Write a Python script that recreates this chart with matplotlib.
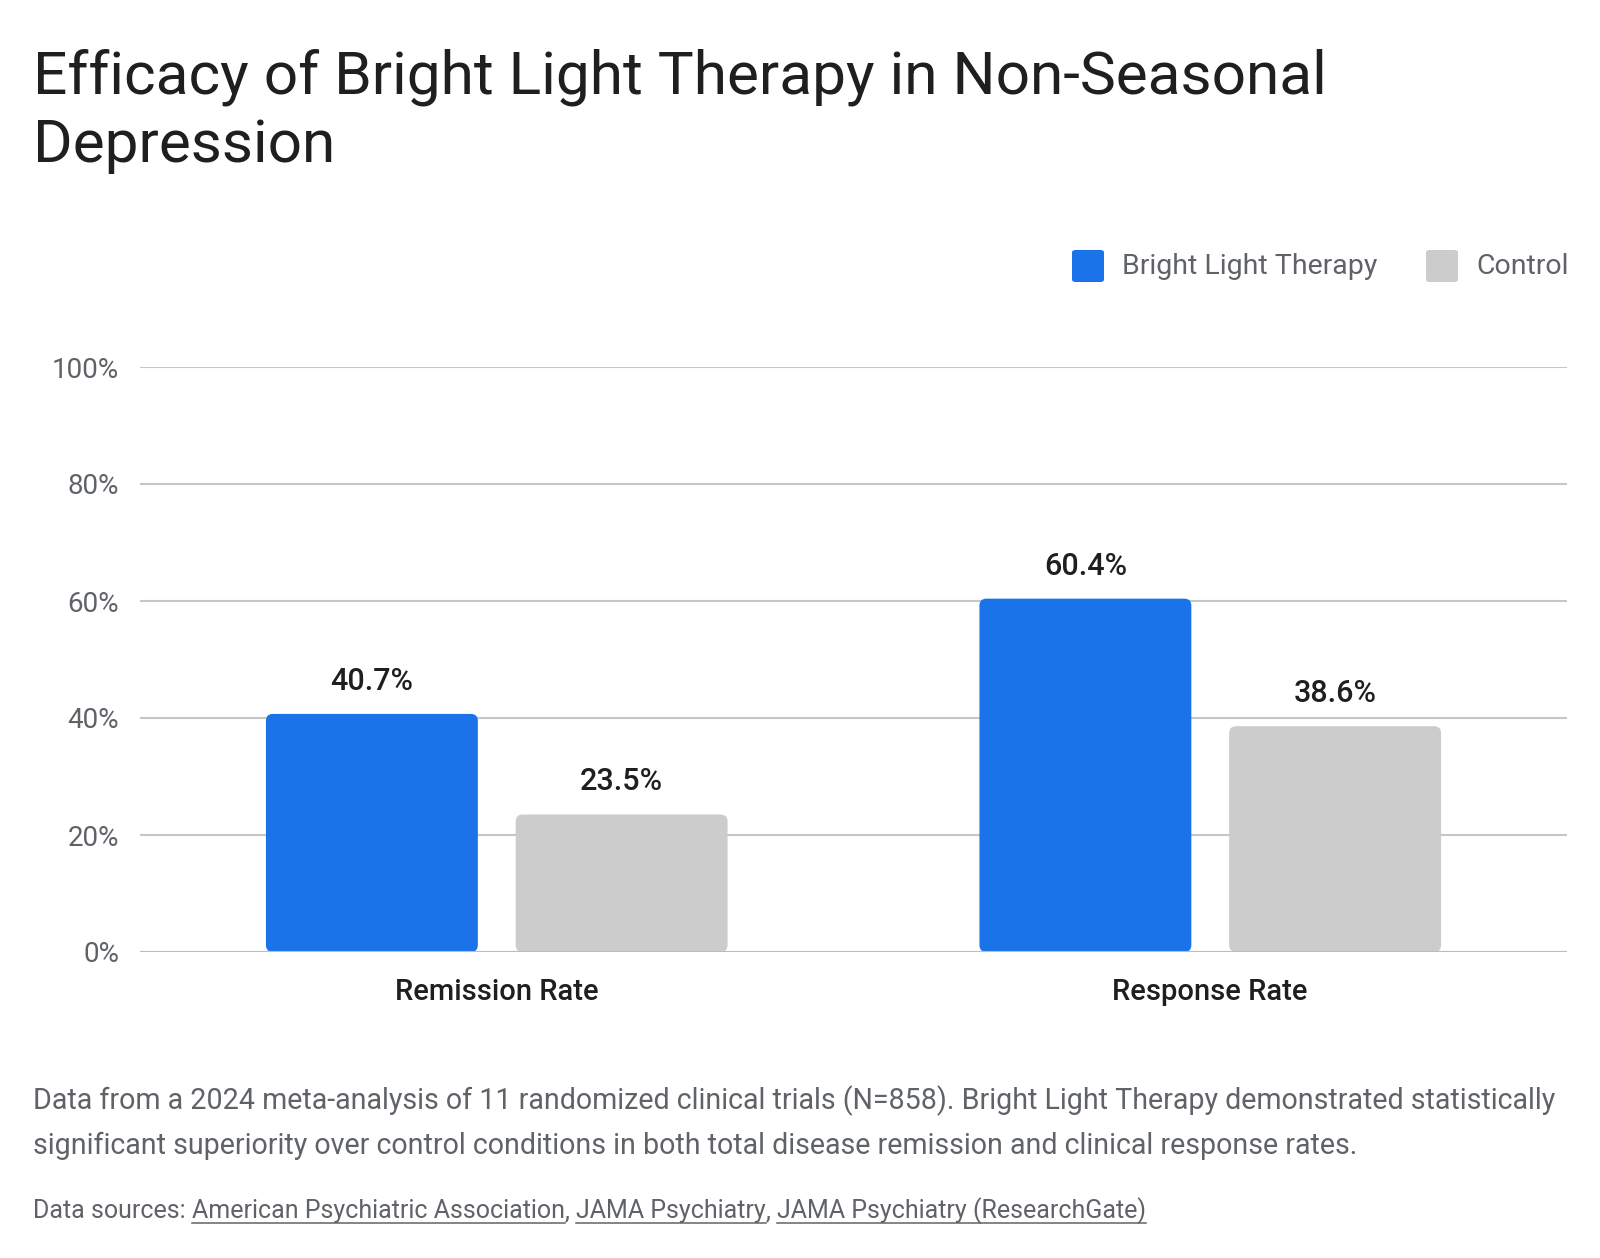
import numpy as np
import matplotlib
matplotlib.use("Agg")
import matplotlib.pyplot as plt
from matplotlib.patches import FancyBboxPatch

plt.rcParams['font.family'] = ['Roboto', 'DejaVu Sans']

categories = ['Remission Rate', 'Response Rate']
series_names = ['Bright Light Therapy', 'Control']
light_values = [40.7, 60.4]
control_values = [23.5, 38.6]
y_ticks = [0, 20, 40, 60, 80, 100]

BLUE = '#1A73E8'
GRAY = '#CCCCCC'
DARK = '#1F1F1F'
MID = '#5F6368'

W, H = 1600, 1258
fig = plt.figure(figsize=(W / 100, H / 100), dpi=100)
fig.patch.set_facecolor('white')

AX_L, AX_R, AX_B, AX_T = 140, 1567, 952, 367
ax = fig.add_axes([AX_L / W, 1 - AX_B / H, (AX_R - AX_L) / W, (AX_B - AX_T) / H])
ax.set_xlim(-0.5, 1.5)
ax.set_ylim(0, 100)
ax.set_frame_on(False)

x = np.arange(len(categories))
off, bw = 0.175, 0.297
bars_a = ax.bar(x - off, light_values, bw, color=BLUE, zorder=3)
bars_b = ax.bar(x + off, control_values, bw, color=GRAY, zorder=3)

# swap plain rectangles for slightly rounded ones
px_x = (AX_R - AX_L) / 2.0
px_y = (AX_B - AX_T) / 100.0
rad = 7.0 / px_x
for bars in (bars_a, bars_b):
    for b in bars:
        b.set_visible(False)
        p = FancyBboxPatch((b.get_x(), 0), b.get_width(), b.get_height(),
                           boxstyle=f"round,pad=0,rounding_size={rad}",
                           mutation_aspect=px_x / px_y,
                           facecolor=b.get_facecolor(), edgecolor='none', zorder=3)
        ax.add_patch(p)
        ax.annotate(f"{b.get_height():.1f}%", (b.get_x() + b.get_width() / 2, b.get_height()),
                    xytext=(0, 13), textcoords='offset points', ha='center', va='bottom',
                    fontsize=22, color=DARK, fontweight='medium')

ax.set_yticks(y_ticks)
ax.set_yticklabels([f"{t}%" for t in y_ticks])
ax.yaxis.grid(True, color='#C6C6C6', linewidth=1.5, zorder=0)
ax.tick_params(axis='y', length=0, pad=15, labelsize=20, labelcolor=MID)
ax.set_xticks(x)
ax.set_xticklabels(categories)
ax.tick_params(axis='x', length=0, pad=19, labelsize=21, labelcolor=DARK)
for t in ax.get_xticklabels():
    t.set_fontweight('medium')
ax.axhline(0, color='#BDBDBD', linewidth=1.5, zorder=4)

# title
fig.text(33 / W, 1 - 93 / H, "Efficacy of Bright Light Therapy in Non-Seasonal",
         fontsize=43.5, color=DARK, va='baseline')
fig.text(33 / W, 1 - 162 / H, "Depression", fontsize=43.5, color=DARK, va='baseline')

# legend
for name, col, sx in [(series_names[0], BLUE, 1072), (series_names[1], GRAY, 1426)]:
    fig.patches.append(FancyBboxPatch((sx / W, 1 - 282 / H), 32 / W, 32 / H,
                                      boxstyle="round,pad=0,rounding_size=0.002",
                                      transform=fig.transFigure, facecolor=col,
                                      edgecolor='none'))
    fig.text((sx + 50) / W, 1 - 266 / H, name, fontsize=20.5, color=MID, va='center')

# footnote
fig.text(33 / W, 1 - 1101 / H,
         "Data from a 2024 meta-analysis of 11 randomized clinical trials (N=858). "
         "Bright Light Therapy demonstrated statistically",
         fontsize=20.6, color=MID, va='center')
fig.text(33 / W, 1 - 1146 / H,
         "significant superiority over control conditions in both total disease "
         "remission and clinical response rates.",
         fontsize=20.6, color=MID, va='center')

# sources line, with underlined links
pieces = [("Data sources: ", False), ("American Psychiatric Association", True), (", ", False),
          ("JAMA Psychiatry", True), (", ", False), ("JAMA Psychiatry (ResearchGate)", True)]
fig.canvas.draw()
renderer = fig.canvas.get_renderer()
cx = 33
base = 1218
for txt, link in pieces:
    t = fig.text(cx / W, 1 - base / H, txt, fontsize=18, color=MID, va='baseline')
    bb = t.get_window_extent(renderer)
    if link:
        fig.lines.append(plt.Line2D([cx / W, (cx + bb.width) / W],
                                    [1 - (base + 5) / H, 1 - (base + 5) / H],
                                    transform=fig.transFigure, color=MID, linewidth=1.1))
    cx += bb.width

fig.savefig('out.png', dpi=100, facecolor='white')
